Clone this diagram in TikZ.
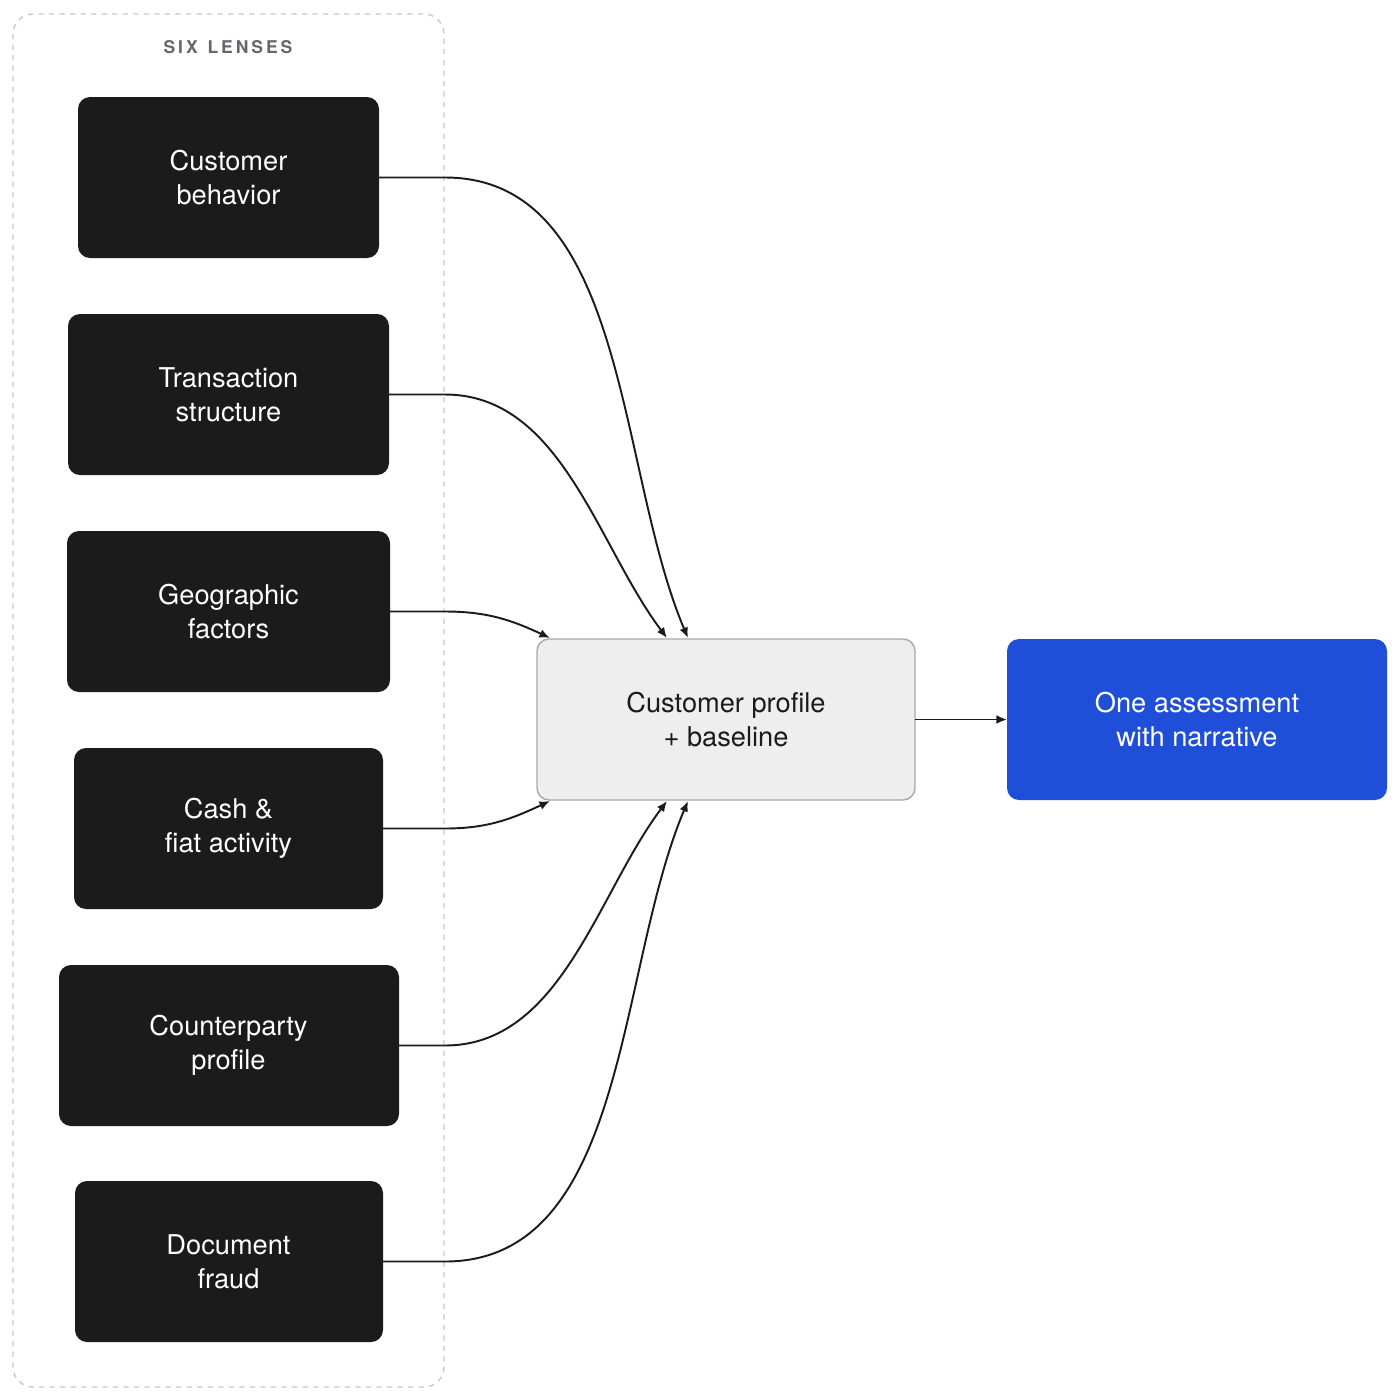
\documentclass[tikz,border=0pt]{standalone}
\usepackage{fontspec}
\setmainfont{TeX Gyre Heros}
\usetikzlibrary{arrows.meta}
\definecolor{boxblack}{HTML}{1B1B1B}
\definecolor{blueb}{HTML}{1F4FD9}
\definecolor{grayfill}{HTML}{EEEEEE}
\definecolor{grayline}{HTML}{A8A8A8}
\definecolor{dashgray}{HTML}{C8C8C8}
\definecolor{labgray}{HTML}{666670}
\tikzset{
  lens/.style={fill=boxblack,rounded corners=0.24cm,text=white,align=center,font=\fontsize{15.5}{19.3}\selectfont},
  conn/.style={draw=boxblack,line width=1.1pt,-{Latex[length=6pt,width=5pt]}},
}
\begin{document}
\begin{tikzpicture}[x=0.02cm,y=-0.02cm]
\useasboundingbox (0,0) rectangle (1400,1400);
\draw[dashgray,dashed,line width=0.8pt,rounded corners=0.4cm] (13,14) rectangle (444,1387);
\node[text=labgray,font=\bfseries\fontsize{10}{12}\selectfont] (lab) at (228,47) {S\,I\,X\ \ L\,E\,N\,S\,E\,S};
\path[lens] (78,97) rectangle (379,258); \node[text=white,align=center,font=\fontsize{15.5}{19.3}\selectfont] (a) at (228.5,177.5) {Customer\\behavior};
\path[lens] (68,314) rectangle (389,475); \node[text=white,align=center,font=\fontsize{15.5}{19.3}\selectfont] (b) at (228.5,394.5) {Transaction\\structure};
\path[lens] (67,531) rectangle (390,692); \node[text=white,align=center,font=\fontsize{15.5}{19.3}\selectfont] (c) at (228.5,611.5) {Geographic\\factors};
\path[lens] (74,748) rectangle (383,909); \node[text=white,align=center,font=\fontsize{15.5}{19.3}\selectfont] (d) at (228.5,828.5) {Cash \&\\fiat activity};
\path[lens] (59,965) rectangle (399,1126); \node[text=white,align=center,font=\fontsize{15.5}{19.3}\selectfont] (e) at (228.5,1045.5) {Counterparty\\profile};
\path[lens] (75,1181) rectangle (383,1342); \node[text=white,align=center,font=\fontsize{15.5}{19.3}\selectfont] (f) at (228.5,1261.5) {Document\\fraud};
\draw[grayline,fill=grayfill,line width=0.8pt,rounded corners=0.24cm] (537,639) rectangle (915,800);
\node[align=center,text=boxblack,font=\fontsize{15.5}{19.3}\selectfont] (p) at (726,719.5) {Customer profile\\+ baseline};
\fill[blueb,rounded corners=0.24cm] (1007,639) rectangle (1387,800);
\node[align=center,text=white,font=\fontsize{15.5}{19.3}\selectfont] (o) at (1197,719.5) {One assessment\\with narrative};
\coordinate (a1) at (379,177.5); \coordinate (a2) at (445,177.5);
\coordinate (b1) at (389,394.5); \coordinate (b2) at (445,394.5);
\coordinate (c1) at (390,611.5); \coordinate (c2) at (445,611.5);
\coordinate (d1) at (383,828.5); \coordinate (d2) at (445,828.5);
\coordinate (e1) at (399,1045.5); \coordinate (e2) at (445,1045.5);
\coordinate (f1) at (383,1261.5); \coordinate (f2) at (445,1261.5);
\coordinate (t1) at (688,638); \coordinate (t2) at (667,638); \coordinate (t3) at (550,638);
\coordinate (u3) at (550,801); \coordinate (u2) at (667,801); \coordinate (u1) at (688,801);
\coordinate (pe) at (915,719.5); \coordinate (ow) at (1007,719.5);
\draw[conn] (a1) -- (a2) to[out=0,in=113,looseness=0.9] (t1);
\draw[conn] (b1) -- (b2) to[out=0,in=127,looseness=0.9] (t2);
\draw[conn] (c1) -- (c2) to[out=0,in=155] (t3);
\draw[conn] (d1) -- (d2) to[out=0,in=205] (u3);
\draw[conn] (e1) -- (e2) to[out=0,in=233,looseness=0.9] (u2);
\draw[conn] (f1) -- (f2) to[out=0,in=247,looseness=0.9] (u1);
\draw[conn] (pe) -- (ow);
\end{tikzpicture}
\end{document}
